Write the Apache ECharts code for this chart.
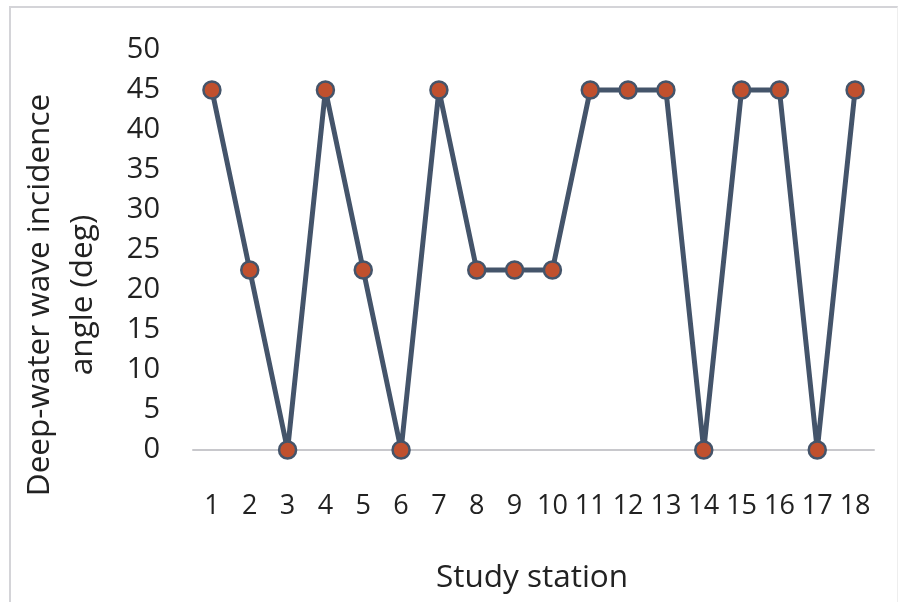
<!DOCTYPE html>
<html><head><meta charset="utf-8">
<script src="https://cdn.jsdelivr.net/npm/echarts@6/dist/echarts.min.js"></script>
<style>
html,body{margin:0;padding:0;background:#fff;}
#frame{position:absolute;left:9px;top:6px;width:889px;height:596px;border:2px solid #d4d4d8;border-right:1px solid #eee;border-bottom:none;box-sizing:border-box;}
#c{position:absolute;left:0;top:0;width:903px;height:604px;}
</style></head>
<body>
<div id="frame"></div>
<div id="c"></div>
<script>
var stations = ['1','2','3','4','5','6','7','8','9','10','11','12','13','14','15','16','17','18'];
var angles = [45, 22.5, 0, 45, 22.5, 0, 45, 22.5, 22.5, 22.5, 45, 45, 45, 0, 45, 45, 0, 45];
var yTitle = 'Deep-water wave incidence\nangle (deg)';
var xTitle = 'Study station';

var chart = echarts.init(document.getElementById('c'));
var font = 'Open Sans';
chart.setOption({
  animation: false,
  grid: {left: 193, right: 29, top: 50, bottom: 154, outerBoundsMode: 'none', containLabel: false},
  graphic: [
    {type: 'text', x: 62, y: 295, rotation: Math.PI / 2,
     style: {text: yTitle, font: '31.5px "Open Sans"', fill: '#222', align: 'center', verticalAlign: 'middle', lineHeight: 43}},
    {type: 'text', x: 532, y: 578,
     style: {text: xTitle, font: '31.5px "Open Sans"', fill: '#222', align: 'center', verticalAlign: 'middle'}}
  ],
  xAxis: {
    type: 'category', data: stations, boundaryGap: true,
    axisLine: {lineStyle: {color: '#c8c8cc', width: 2}},
    axisTick: {show: false},
    axisLabel: {color: '#222', fontSize: 27, fontFamily: font, margin: 43, interval: 0}
  },
  yAxis: {
    type: 'value', min: 0, max: 50, interval: 5,
    splitLine: {show: false},
    axisLine: {show: false}, axisTick: {show: false},
    axisLabel: {color: '#222', fontSize: 29, fontFamily: font, margin: 33}
  },
  series: [{
    type: 'line', data: angles,
    lineStyle: {color: '#44546a', width: 5},
    symbol: 'circle', symbolSize: 17,
    itemStyle: {color: '#c0502e', borderColor: '#44546a', borderWidth: 2.5}
  }]
});
</script>
</body></html>
